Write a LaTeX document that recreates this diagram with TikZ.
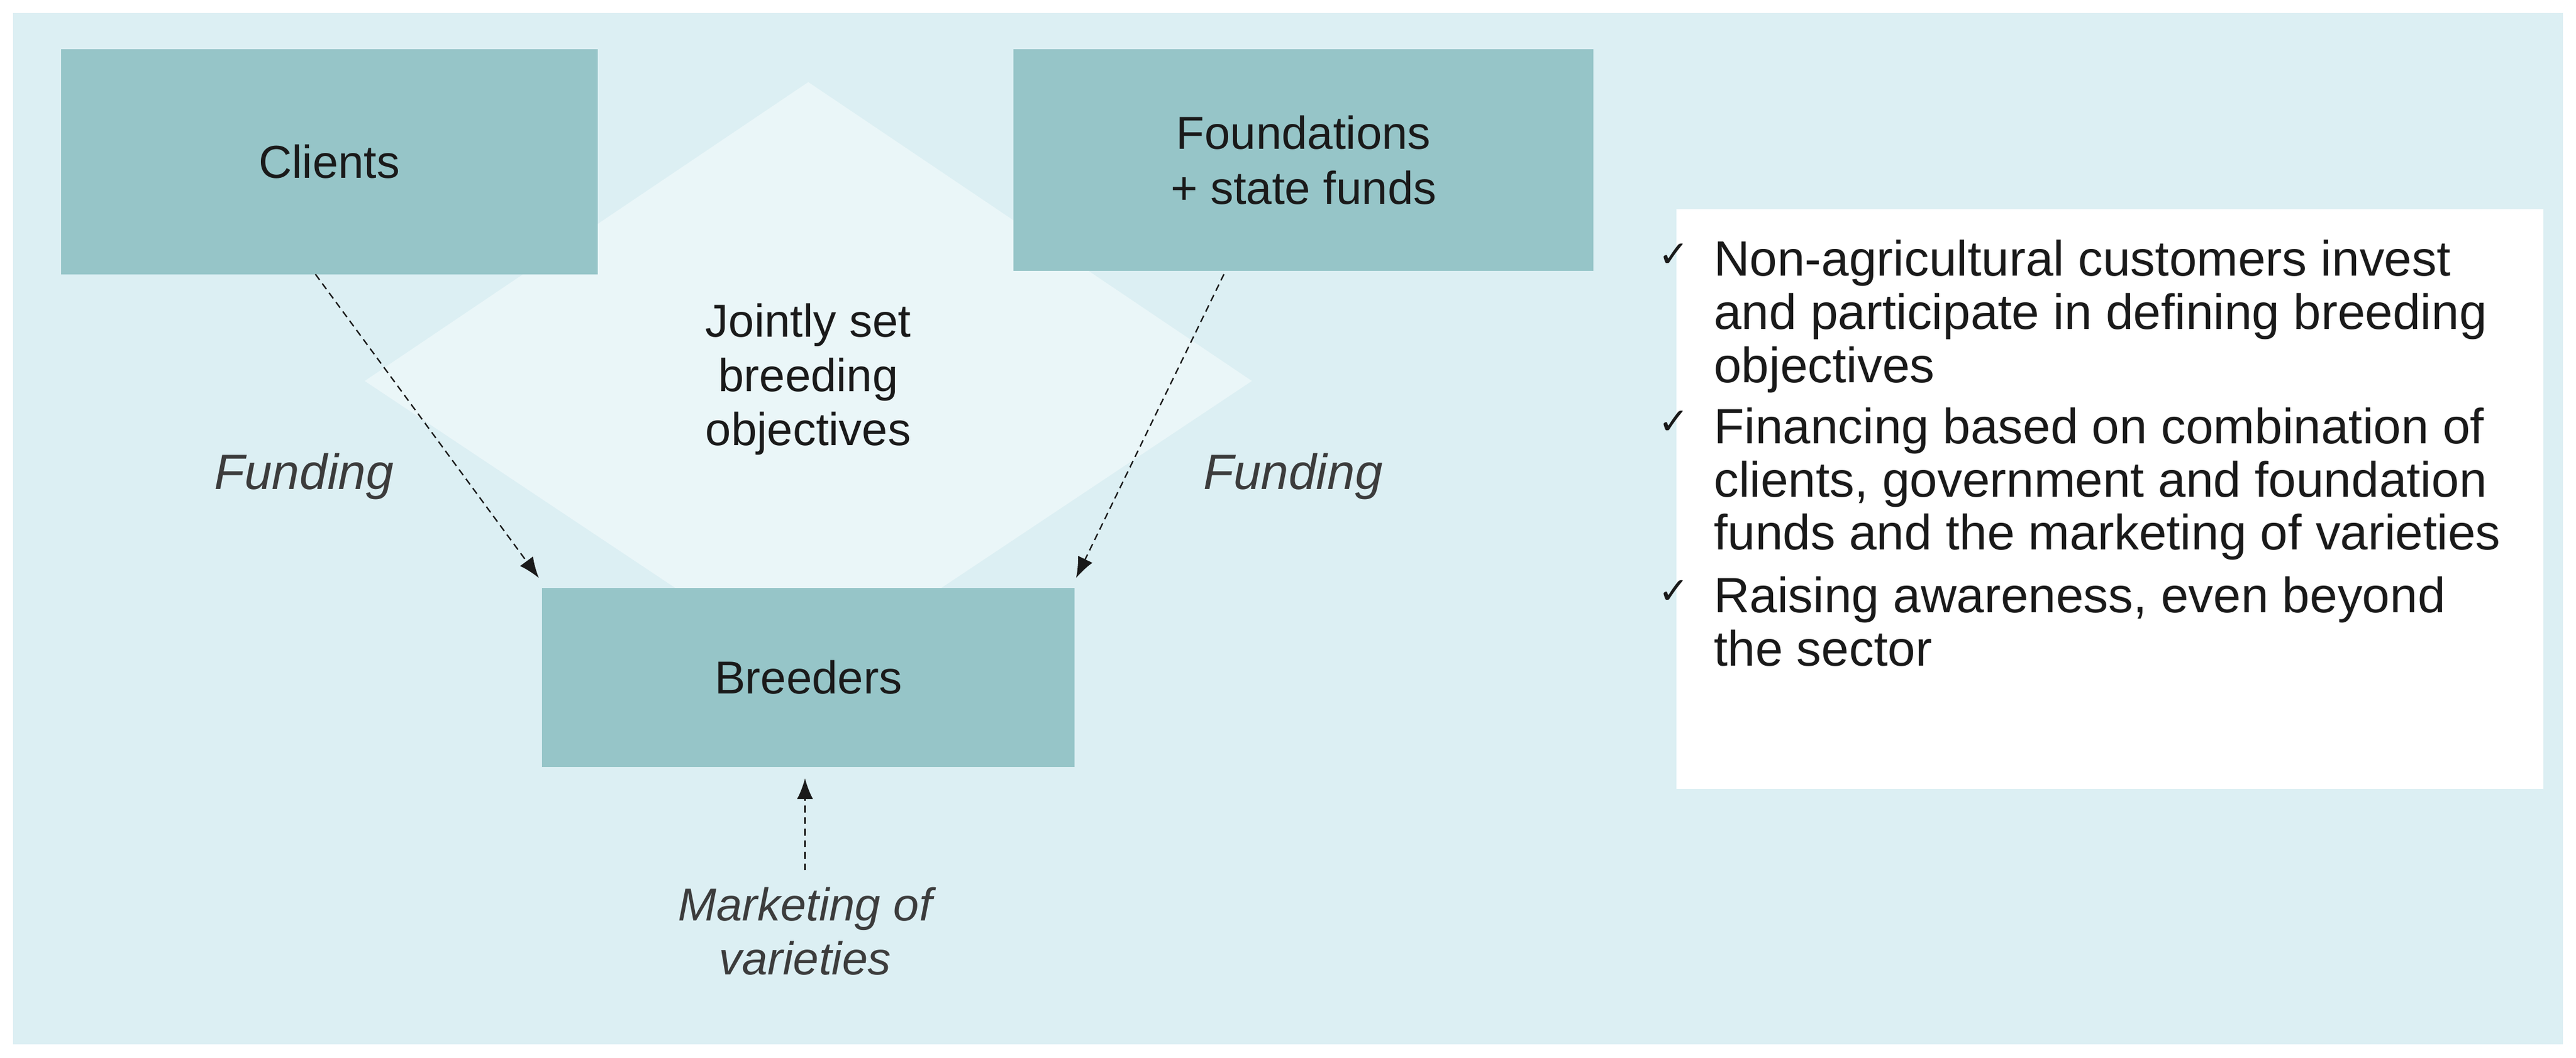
\documentclass[tikz,border=0pt]{standalone}
\usepackage{fontspec}
\setmainfont{Liberation Sans}
\newfontfamily\dvs{DejaVu Sans}
\usetikzlibrary{arrows.meta}
\definecolor{bg}{HTML}{DCEFF3}
\definecolor{boxc}{HTML}{96C5C8}
\definecolor{dia}{HTML}{EAF6F8}
\definecolor{txt}{HTML}{1A1A1A}
\begin{document}
\begin{tikzpicture}[x=0.25mm,y=-0.25mm,
  box/.style={draw=none,fill=boxc,text=txt,align=center,font=\fontsize{20}{24}\selectfont},
  lab/.style={text=txt!85,align=center,font=\fontsize{21.5}{24}\selectfont\itshape},
  arr/.style={densely dashed,line width=0.6pt,draw=txt,-{Latex[length=9pt,width=7pt]}},
  chk/.style={anchor=north west,inner sep=0,text=txt,font=\dvs\fontsize{16}{23}\selectfont},
  bul/.style={anchor=north west,align=left,inner sep=0,text=txt,font=\fontsize{21.5}{23}\selectfont}]
\useasboundingbox (0,0) rectangle (1568,644);
\fill[white] (0,0) rectangle (1568,644);
\fill[bg] (8,8) rectangle (1560,636);
\fill[dia] (492,50) -- (762,232) -- (492,412) -- (222,232) -- cycle;
\node[box,minimum width=327*0.25mm,minimum height=137*0.25mm] (cl) at (200.5,98.5) {Clients};
\node[box,minimum width=353*0.25mm,minimum height=135*0.25mm] (fo) at (793.5,97.5) {Foundations\\+ state funds};
\node[box,minimum width=324*0.25mm,minimum height=109*0.25mm] (br) at (492,412.5) {Breeders};
\node[align=center,text=txt,font=\fontsize{20}{23.4}\selectfont] (jo) at (492,231) {Jointly set\\breeding\\objectives};
\coordinate (c1) at (192,167); \coordinate (e1) at (328,352);
\coordinate (c2) at (745,167); \coordinate (e2) at (655,352);
\coordinate (m1) at (490,530); \coordinate (m2) at (490,474);
\draw[arr] (c1) -- (e1);
\draw[arr] (c2) -- (e2);
\draw[arr] (m1) -- (m2);
\node[lab] (f1) at (185,290) {Funding};
\node[lab] (f2) at (787,290) {Funding};
\node[lab,font=\fontsize{20}{23.4}\selectfont\itshape] (mk) at (490,567) {Marketing of\\varieties};
\node[fill=white,minimum width=528*0.25mm,minimum height=353*0.25mm,anchor=north west] (wb) at (1020,127) {};
\node[chk] (k1) at (1009,148) {✓};
\node[bul] (t1) at (1043,146) {Non-agricultural customers invest\\and participate in defining breeding\\objectives};
\node[chk] (k2) at (1009,250) {✓};
\node[bul] (t2) at (1043,248) {Financing based on combination of\\clients, government and foundation\\funds and the marketing of varieties};
\node[chk] (k3) at (1009,353) {✓};
\node[bul] (t3) at (1043,351) {Raising awareness, even beyond\\the sector};
\end{tikzpicture}
\end{document}
